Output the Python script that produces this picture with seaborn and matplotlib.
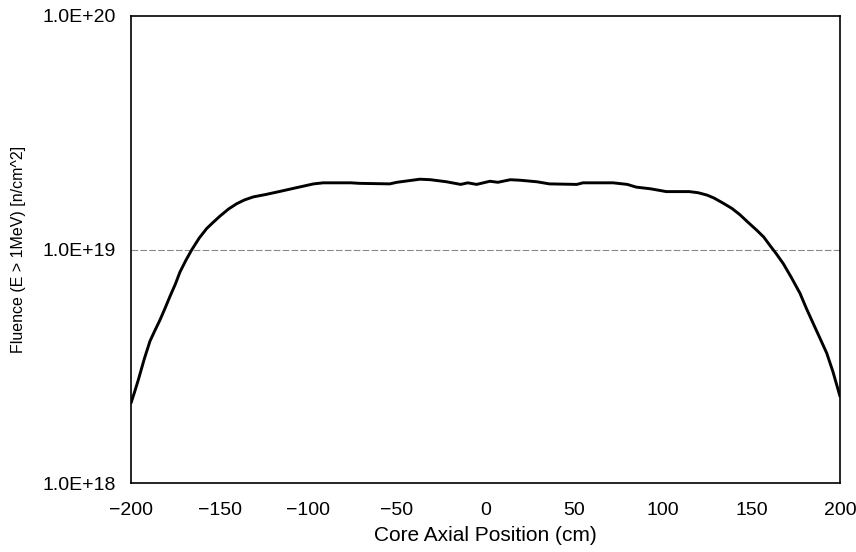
import matplotlib
matplotlib.use("Agg")
import matplotlib.pyplot as plt
import matplotlib.ticker as mticker
import seaborn as sns
import pandas as pd

position_cm = [-200, -198, -195.9, -192.5, -189.3, -186.5, -183.6, -180.8, -178, -175,
               -172.4, -169, -165.8, -161.5, -157.3, -153.5, -149.8, -145, -140.4, -136,
               -131, -124, -115, -108, -97, -91.5, -76, -71, -54, -50, -37, -31, -22,
               -14, -10, -5, 2.5, 7, 14, 19.5, 29, 36, 51.5, 55, 72, 80, 85, 93,
               102, 110, 115, 120, 125, 129, 134, 139, 143.5, 148, 153, 157, 160.5, 164,
               168, 172.5, 177.4, 181, 185, 188.5, 192.5, 196, 200]
fluence = [2.2e18, 2.45e18, 2.76e18, 3.4e18, 4.05e18, 4.5e18, 5.0e18, 5.6e18, 6.3e18, 7.1e18,
           8.0e18, 9.0e18, 9.95e18, 1.12e19, 1.23e19, 1.31e19, 1.39e19, 1.49e19, 1.57e19, 1.63e19,
           1.68e19, 1.72e19, 1.78e19, 1.83e19, 1.91e19, 1.93e19, 1.93e19, 1.92e19, 1.91e19,
           1.94e19, 2.0e19, 1.99e19, 1.95e19, 1.90e19, 1.93e19, 1.90e19, 1.96e19,
           1.94e19, 1.99e19, 1.98e19, 1.95e19, 1.91e19, 1.90e19, 1.93e19, 1.93e19,
           1.90e19, 1.85e19, 1.82e19, 1.77e19, 1.77e19, 1.77e19, 1.75e19, 1.71e19, 1.66e19,
           1.58e19, 1.50e19, 1.41e19, 1.31e19, 1.21e19, 1.13e19, 1.04e19, 9.6e18,
           8.7e18, 7.6e18, 6.5e18, 5.6e18, 4.8e18, 4.2e18, 3.6e18, 3.0e18, 2.35e18]
x_ticks = [-200, -150, -100, -50, 0, 50, 100, 150, 200]
y_ticks = [1e18, 1e19, 1e20]
y_tick_labels = ["1.0E+18", "1.0E+19", "1.0E+20"]

sns.set_theme(style="white")
plt.rcParams['font.family'] = ['Liberation Sans', 'DejaVu Sans']

df = pd.DataFrame({"pos": position_cm, "flu": fluence})

fig = plt.figure(figsize=(8.56, 5.52), dpi=100)
ax = fig.add_axes([131/856, 1 - 483/552, (840 - 131)/856, (483 - 16)/552])

sns.lineplot(data=df, x="pos", y="flu", ax=ax, color="black", linewidth=2.1)

ax.set_yscale("log")
ax.set_ylim(1e18, 1e20)
ax.set_xlim(-200, 200)
ax.set_xticks(x_ticks)
ax.set_xticklabels([str(t).replace("-", "\u2212") for t in x_ticks])
ax.set_yticks(y_ticks)
ax.set_yticklabels(y_tick_labels)
ax.yaxis.set_minor_locator(mticker.NullLocator())

ax.axhline(1e19, color="#8a8a8a", linewidth=0.8, linestyle=(0, (6, 2)), zorder=0)

for s in ax.spines.values():
    s.set_color("black")
    s.set_linewidth(1.2)

ax.tick_params(axis="both", which="major", length=0, labelsize=14, colors="black")
ax.tick_params(axis="y", pad=11)
ax.tick_params(axis="x", pad=14)
ax.set_xlabel("Core Axial Position (cm)", fontsize=15, color="black", labelpad=5)
ax.set_ylabel("Fluence (E > 1MeV) [n/cm^2]", fontsize=11.5, color="black", labelpad=12)

fig.savefig("out.png", dpi=100)
